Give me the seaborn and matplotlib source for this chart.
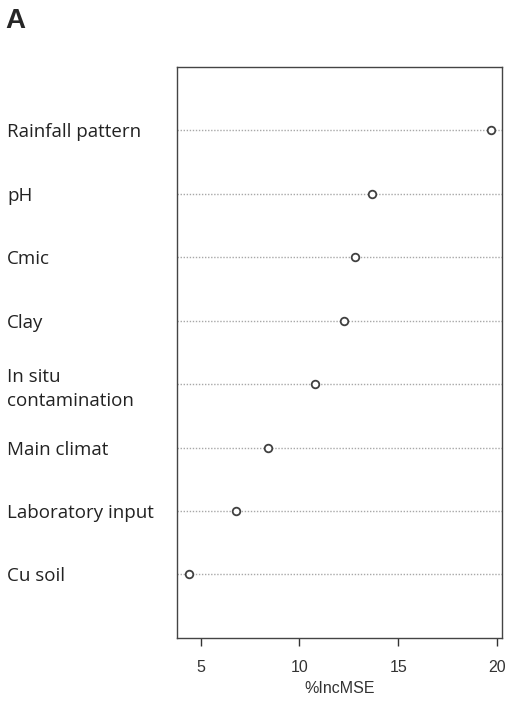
import matplotlib
matplotlib.use("Agg")
import matplotlib.pyplot as plt
import seaborn as sns
import pandas as pd

variables = ["Rainfall pattern", "pH", "Cmic", "Clay", "In situ\ncontamination",
             "Main climat", "Laboratory input", "Cu soil"]
inc_mse = [19.7, 13.7, 12.8, 12.25, 10.8, 8.4, 6.8, 4.4]
x_ticks = [5, 10, 15, 20]
x_label = "%IncMSE"
panel_label = "A"

n = len(variables)
positions = list(range(n, 0, -1))
df = pd.DataFrame({"var": variables, "val": inc_mse, "pos": positions})

sns.set_theme(style="white")
plt.rcParams["font.family"] = ["DejaVu Sans"]

fig = plt.figure(figsize=(5.09, 7.02), dpi=100)
ax = fig.add_axes([0.347, 0.0912, 0.640, 0.814])

ax.set_xlim(3.78, 20.28)
ax.set_ylim(0, n + 1)
for p in df["pos"]:
    ax.axhline(p, color="#a8a8a8", lw=1.0, ls=(0, (1, 1.2)), zorder=1)

sns.scatterplot(data=df, x="val", y="pos", ax=ax, marker="o", s=30,
                facecolor="white", edgecolor="#404040", linewidth=1.3, zorder=3)

ax.set_xticks(x_ticks)
ax.set_xticklabels([str(t) for t in x_ticks], fontsize=11.5, family="Liberation Sans", color="#333333")
ax.tick_params(axis="x", direction="out", length=6, width=1, color="#333333", pad=10, bottom=True)
ax.set_xlabel(x_label, fontsize=11.5, family="Liberation Sans", color="#333333", labelpad=4.5)

ax.set_yticks(df["pos"])
ax.set_yticklabels(df["var"], fontsize=13.5, family="Open Sans", color="#222222",
                   ha="left", linespacing=1.45)
ax.tick_params(axis="y", length=0, pad=122)
ax.set_ylabel("")

for s in ax.spines.values():
    s.set_visible(True)
    s.set_color("#444444")
    s.set_linewidth(1.0)

fig.text(5 / 509, 1 - 20.5 / 702, panel_label, fontsize=20, fontweight="bold",
         family="Liberation Sans", va="center", ha="left")

fig.savefig("out.png", dpi=100, facecolor="white")
